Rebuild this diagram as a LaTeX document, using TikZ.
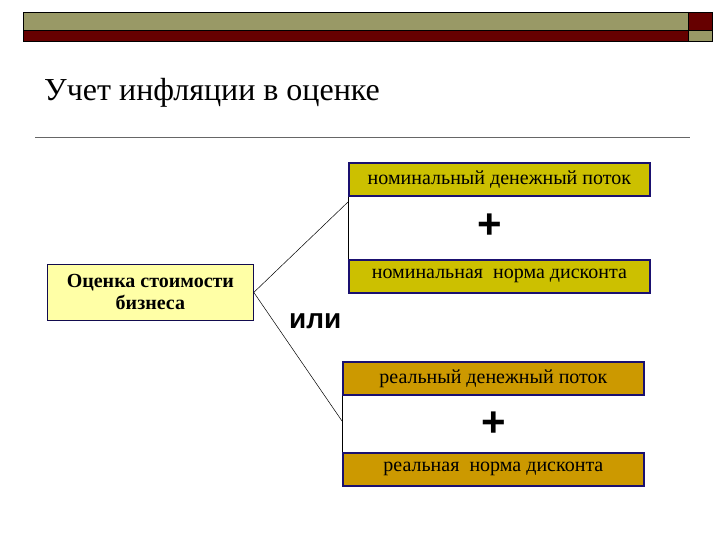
\documentclass[tikz,border=0pt]{standalone}
\usepackage{fontspec}
\setmainfont{Liberation Serif}
\newfontfamily\sansb{Liberation Sans}
\definecolor{olivebar}{HTML}{999966}
\definecolor{darkred}{HTML}{660000}
\definecolor{nomfill}{HTML}{CCC000}
\definecolor{realfill}{HTML}{CC9900}
\definecolor{leftfill}{HTML}{FFFFA6}
\definecolor{navy}{HTML}{1A1070}
\begin{document}
\begin{tikzpicture}[x=1pt,y=-1pt,
  bar/.style={draw=black,line width=0.8pt},
  tbox/.style={draw=navy,line width=1.8pt,minimum width=301pt,minimum height=33pt,inner sep=0pt,font=\fontsize{20}{22}\selectfont},
  lbox/.style={draw=navy!70!black,line width=0.8pt,fill=leftfill,minimum width=206pt,minimum height=56pt,inner sep=0pt,align=center,font=\fontsize{20}{22}\selectfont\bfseries},
  plus/.style={font=\sansb\bfseries\fontsize{42}{42}\selectfont,inner sep=0pt},
  conn/.style={draw=black,line width=0.5pt}]
\useasboundingbox (0,0) rectangle (720,540);
% top bar
\fill[olivebar] (23,12) rectangle (688,30);
\fill[darkred] (23,30) rectangle (688,41);
\fill[darkred] (688,12) rectangle (712,30);
\fill[olivebar] (688,30) rectangle (712,41);
\draw[bar] (23,12) rectangle (712,41);
\draw[black,line width=0.5pt] (23,30) -- (712,30) (688,12) -- (688,41);
% title
\node[anchor=base west,inner sep=0pt,font=\fontsize{32}{34}\selectfont] (title) at (44,101) {Учет инфляции в оценке};
\draw[gray!80!black,line width=0.6pt] (35,137) -- (690,137);
% boxes
\node[tbox,fill=nomfill,anchor=north west] (n1) at (348,162) {номинальный денежный поток};
\node[tbox,fill=nomfill,anchor=north west] (n2) at (348,259) {номинальная\ \ норма дисконта};
\node[tbox,fill=realfill,anchor=north west] (r1) at (342,361) {реальный денежный поток};
\node[tbox,fill=realfill,anchor=north west] (r2) at (342,452) {реальная\ \ норма дисконта};
\node[plus] (p1) at (490,226) {+};
\node[plus] (p2) at (494,424) {+};
\node[lbox,anchor=north west] (left) at (47,264) {Оценка стоимости\\бизнеса};
\node[anchor=base west,inner sep=0pt,font=\sansb\bfseries\fontsize{28}{30}\selectfont] (ili) at (289,328) {или};
% connectors
\draw[conn] (n1.south west) -- (n2.north west);
\draw[conn] (r1.south west) -- (r2.north west);
\coordinate (cn) at (348,202);
\coordinate (cr) at (342,421);
\draw[conn] (left.east) -- (cn);
\draw[conn] (left.east) -- (cr);
\end{tikzpicture}
\end{document}
